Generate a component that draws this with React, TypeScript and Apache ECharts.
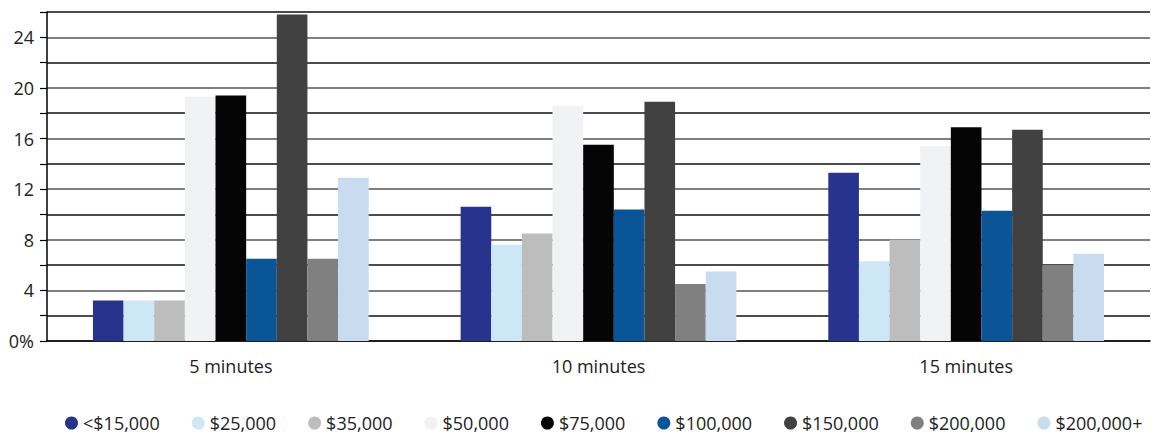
import React, { useEffect, useRef } from "react";
import * as echarts from "echarts";

// Commute-time buckets on the category axis
const categories = ["5 minutes", "10 minutes", "15 minutes"];

// Household income brackets, one bar series each
const incomeBrackets = [
  "<$15,000",
  "$25,000",
  "$35,000",
  "$50,000",
  "$75,000",
  "$100,000",
  "$150,000",
  "$200,000",
  "$200,000+",
];

const bracketColors = [
  "#27338c",
  "#cde7f7",
  "#bdbdbd",
  "#f1f2f4",
  "#050505",
  "#0a5597",
  "#414141",
  "#808080",
  "#c9dbef",
];

// Share (%) per bracket, ordered as the categories
const under15k = [3.2, 10.6, 13.3];
const k25 = [3.2, 7.6, 6.3];
const k35 = [3.2, 8.5, 8.0];
const k50 = [19.3, 18.6, 15.4];
const k75 = [19.4, 15.5, 16.9];
const k100 = [6.5, 10.4, 10.3];
const k150 = [25.8, 18.9, 16.7];
const k200 = [6.5, 4.5, 6.0];
const over200k = [12.9, 5.5, 6.9];

const seriesValues = [under15k, k25, k35, k50, k75, k100, k150, k200, over200k];

const yMax = 26;
const yStep = 2;

const FONT = "'Open Sans', 'DejaVu Sans', sans-serif";

export default function App() {
  const ref = useRef<HTMLDivElement>(null);

  useEffect(() => {
    if (!ref.current) return;
    const chart = echarts.init(ref.current, null, { renderer: "svg" });

    chart.setOption({
      animation: false,
      backgroundColor: "#ffffff",
      textStyle: { fontFamily: FONT },
      grid: { left: 47, right: 1, top: 12, bottom: 97, containLabel: false },
      legend: {
        data: incomeBrackets,
        left: 60,
        top: 409,
        icon: "circle",
        itemWidth: 13,
        itemHeight: 13,
        itemGap: 32,
        textStyle: { fontFamily: FONT, fontSize: 18, color: "#222" },
      },
      xAxis: {
        type: "category",
        data: categories,
        axisLine: { lineStyle: { color: "#000", width: 1.5 } },
        axisTick: { alignWithLabel: true, length: 7, lineStyle: { color: "#000", width: 1.5 } },
        axisLabel: { fontFamily: FONT, fontSize: 18, color: "#222", margin: 16 },
      },
      yAxis: {
        type: "value",
        min: 0,
        max: yMax,
        interval: yStep,
        axisLine: { show: true, lineStyle: { color: "#000", width: 1.5 } },
        axisTick: { show: true, length: 7, lineStyle: { color: "#000", width: 1.2 } },
        axisLabel: {
          fontFamily: FONT,
          fontSize: 18,
          color: "#222",
          margin: 13,
          formatter: (v: number) => (v === 0 ? "0%" : v % 4 === 0 ? String(v) : ""),
        },
        splitLine: {
          show: true,
          lineStyle: { color: ["#555", "#111"], width: 1.6 },
        },
      },
      series: incomeBrackets.map((name, i) => ({
        name,
        type: "bar",
        data: seriesValues[i],
        barGap: "0%",
        barCategoryGap: "25%",
        itemStyle: { color: bracketColors[i] },
      })),
    });

    return () => chart.dispose();
  }, []);

  return (
    <div
      ref={ref}
      style={{ position: "fixed", left: 0, top: 0, width: 1151, height: 438, background: "#fff" }}
    />
  );
}
